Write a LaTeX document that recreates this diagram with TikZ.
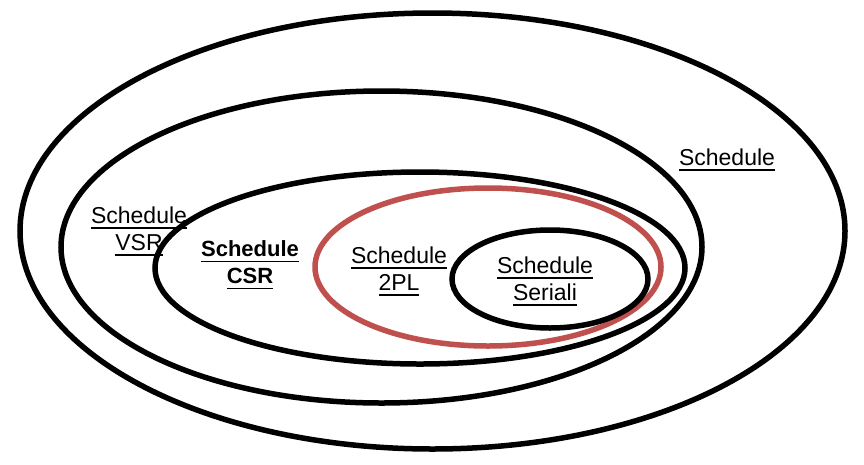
\documentclass[tikz,border=0pt]{standalone}
\usepackage{fontspec}
\setmainfont{Liberation Sans}
\newcommand\myul[1]{\setbox0\hbox{#1}\rlap{\rule[-5.5pt]{\wd0}{1.6pt}}\box0}
\definecolor{redset}{RGB}{192,80,77}
\begin{document}
\begin{tikzpicture}[x=1pt,y=-1pt,
  setline/.style={line width=5.5pt,draw=black},
  lbl/.style={align=center,font=\fontsize{23}{27}\selectfont,inner sep=0pt}]
\useasboundingbox (0,0) rectangle (864,464);
\fill[white] (0,0) rectangle (864,464);
\draw[setline] (432.5,231) ellipse [x radius=412.5,y radius=218];
\draw[setline] (381.5,247) ellipse [x radius=320.5,y radius=156];
\draw[setline] (420,268) ellipse [x radius=265,y radius=96];
\draw[line width=5.5pt,draw=redset] (488,267) ellipse [x radius=173,y radius=79];
\draw[setline] (550,279) ellipse [x radius=98,y radius=49];
\node[lbl] (all) at (727,160) {\myul{Schedule}};
\node[lbl] (vsr) at (139,231) {\myul{Schedule}\\\myul{VSR}};
\node[lbl,font=\fontsize{22}{27}\selectfont\bfseries] (csr) at (250,265) {\myul{Schedule}\\\myul{CSR}};
\node[lbl] (tpl) at (399,271) {\myul{Schedule}\\\myul{2PL}};
\node[lbl] (ser) at (545,281) {\myul{Schedule}\\\myul{Seriali}};
\end{tikzpicture}
\end{document}
